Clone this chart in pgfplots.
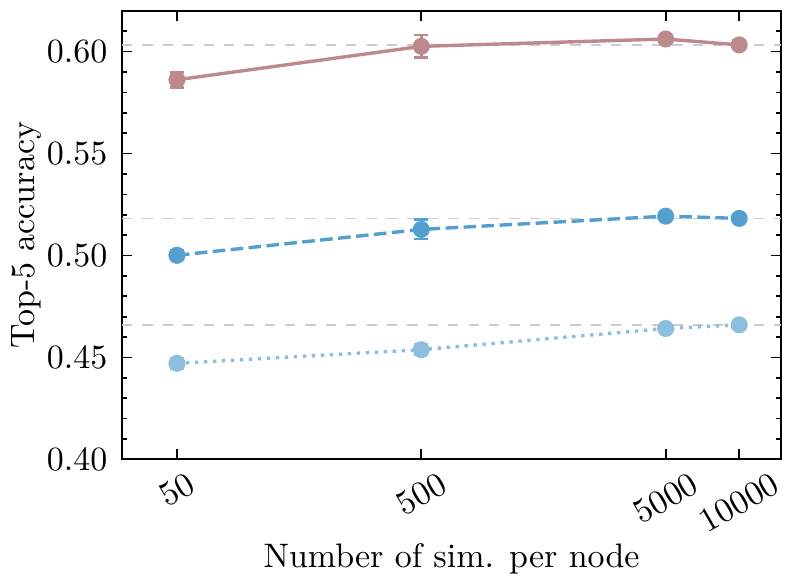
\documentclass[border=0pt]{standalone}
\usepackage{graphicx}
\usepackage{pgfplots}
\pgfplotsset{compat=1.18}
\definecolor{rose}{RGB}{188,138,140}
\definecolor{midblue}{RGB}{83,159,208}
\definecolor{lightblue}{RGB}{139,191,223}
\definecolor{refgray}{RGB}{204,204,204}
\begin{document}
\begin{tikzpicture}
\begin{axis}[
    scale only axis,
    width=194pt, height=132pt,
    xmode=log,
    xmin=29.8, xmax=14840,
    ymin=0.40, ymax=0.62,
    xtick={50,500,5000,10000},
    xticklabels={\rotatebox{30}{50},\rotatebox{30}{500},\rotatebox{30}{5000},\rotatebox{30}{10000}},
    minor xtick={},
    xticklabel style={anchor=north},
    ytick={0.40,0.45,0.50,0.55,0.60},
    minor ytick={0.41,0.42,0.43,0.44,0.46,0.47,0.48,0.49,0.51,0.52,0.53,0.54,0.56,0.57,0.58,0.59,0.61,0.62},
    yticklabel style={xshift=-0.8pt, /pgf/number format/.cd, fixed, fixed zerofill, precision=2},
    tick align=inside,
    major tick length=3pt,
    minor tick length=1.5pt,
    tick style={black, line width=0.5pt},
    axis line style={line width=0.6pt},
    xlabel={Number of sim. per node},
    ylabel={Top-5 accuracy},
    xlabel style={at={([yshift=-31.8pt]axis description cs:0.5,0)}, anchor=base},
    ylabel style={at={([xshift=-25.6pt]axis description cs:0,0.5)}, anchor=base},
    clip=false,
]
% reference lines
\addplot[refgray, dashed, line width=0.5pt, forget plot] coordinates {(29.8,0.6033) (14840,0.6033)};
\addplot[refgray, dashed, line width=0.5pt, forget plot] coordinates {(29.8,0.5182) (14840,0.5182)};
\addplot[refgray, dashed, line width=0.5pt, forget plot] coordinates {(29.8,0.4660) (14840,0.4660)};

\addplot[rose, line width=1pt, mark=*, mark size=2pt,
    error bars/.cd, y dir=both, y explicit,
    error bar style={line width=0.8pt, solid},
    error mark options={rotate=90, mark size=2pt, line width=0.8pt}]
coordinates {
    (50,0.5862) +- (0,0.0037)
    (500,0.6026) +- (0,0.0055)
    (5000,0.6062) +- (0,0.0020)
    (10000,0.6033) +- (0,0.0020)
};
\addplot[midblue, line width=1pt, dash pattern=on 3.7pt off 1.6pt, mark=*, mark size=2pt, mark options={solid},
    error bars/.cd, y dir=both, y explicit,
    error bar style={line width=0.8pt, solid},
    error mark options={rotate=90, mark size=2pt, line width=0.8pt}]
coordinates {
    (50,0.5001) +- (0,0.0022)
    (500,0.5128) +- (0,0.0047)
    (5000,0.5193) +- (0,0.0015)
    (10000,0.5182) +- (0,0.0015)
};
\addplot[lightblue, line width=1pt, dash pattern=on 1pt off 1.65pt, mark=*, mark size=2pt, mark options={solid},
    error bars/.cd, y dir=both, y explicit,
    error bar style={line width=0.8pt, solid},
    error mark options={rotate=90, mark size=2pt, line width=0.8pt}]
coordinates {
    (50,0.4471) +- (0,0.0025)
    (500,0.4538) +- (0,0.0025)
    (5000,0.4642) +- (0,0.0020)
    (10000,0.4660) +- (0,0.0015)
};
\coordinate (bl) at ([xshift=-35.9pt,yshift=-36.5pt]rel axis cs:0,0);
\coordinate (tr) at ([xshift=3.5pt,yshift=3.2pt]rel axis cs:1,1);
\end{axis}
\pgfresetboundingbox
\path[use as bounding box] (bl) rectangle (tr);
\end{tikzpicture}
\end{document}
